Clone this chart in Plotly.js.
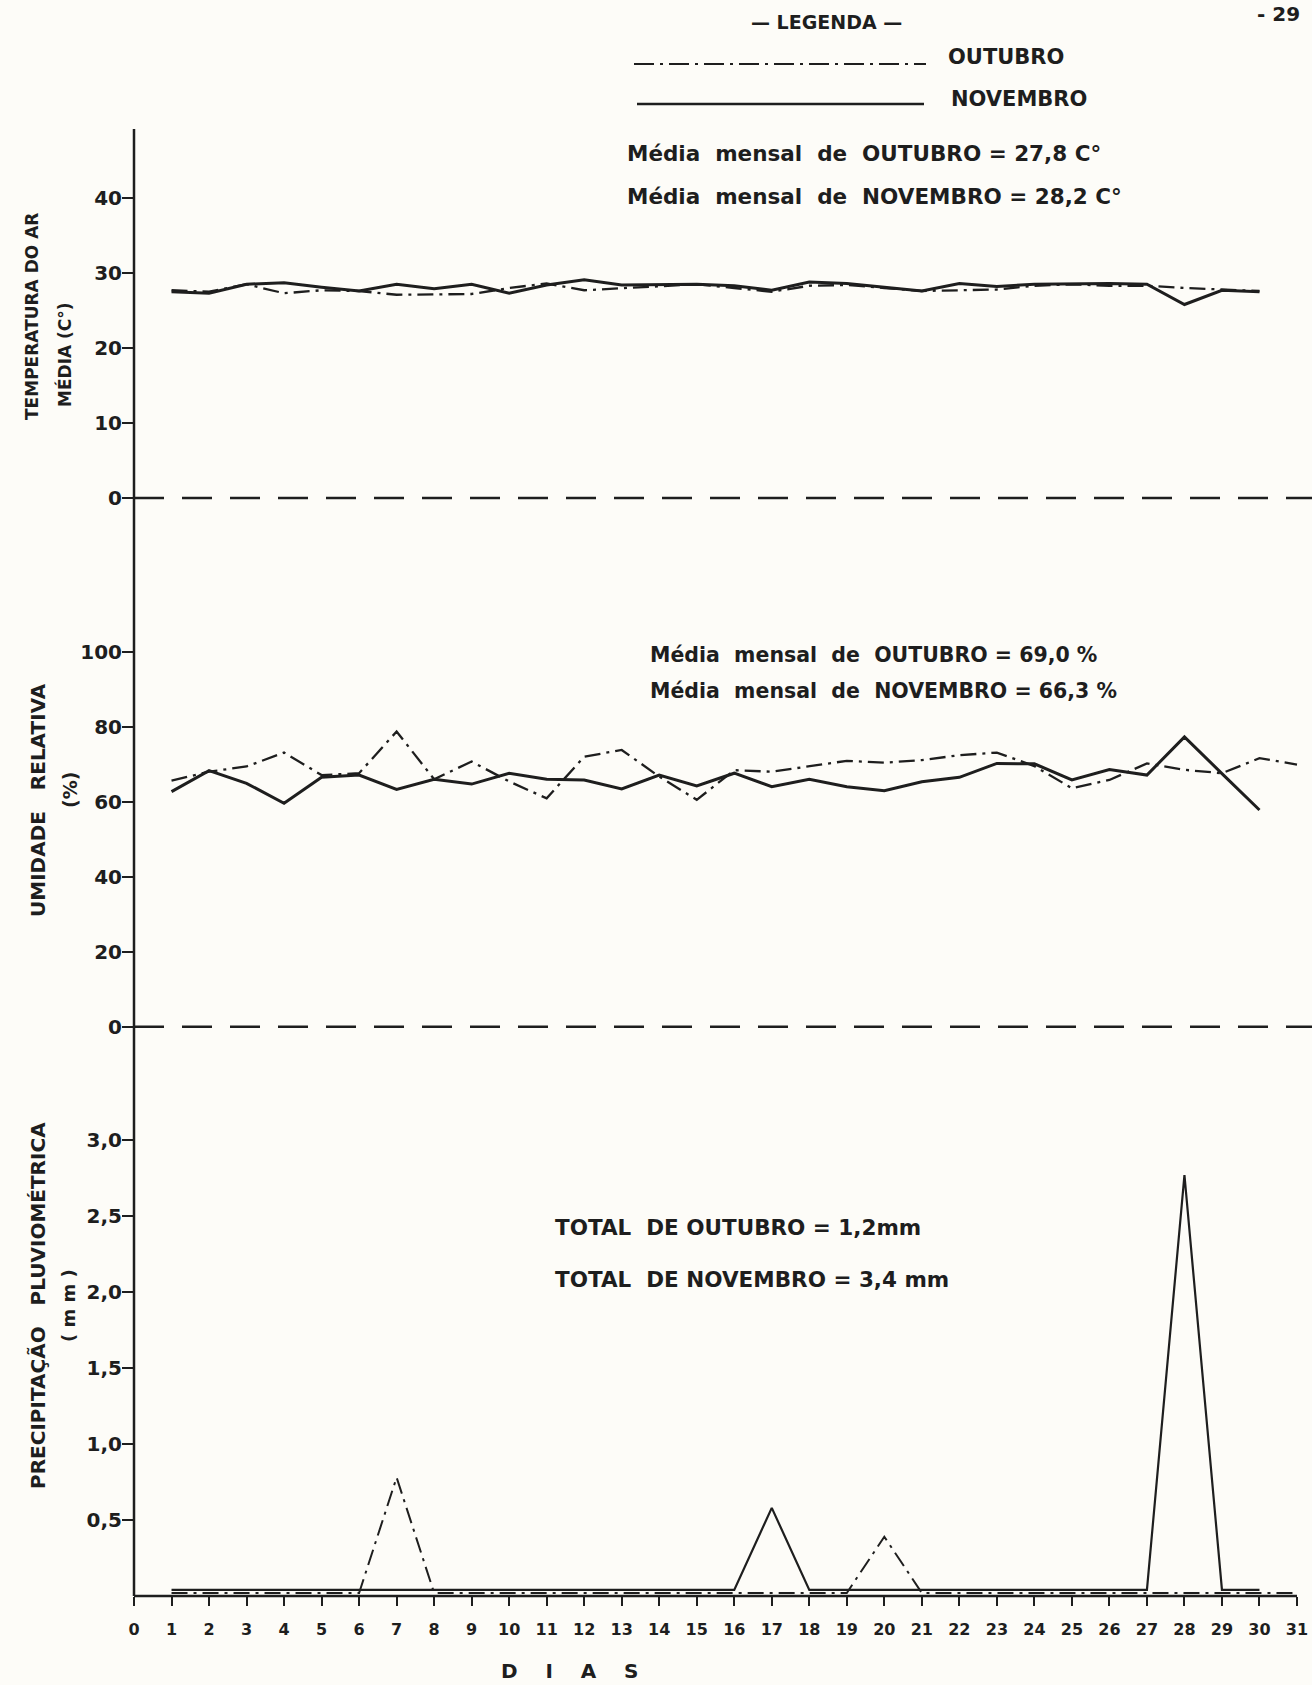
<!DOCTYPE html>
<html><head><meta charset="utf-8">
<script src="https://cdn.plot.ly/plotly-3.0.1.min.js"></script>
<style>body{margin:0;background:#fdfcf8}</style>
</head><body>
<div id="chart" style="width:1312px;height:1685px"></div>
<script>
// ---- data ----
const daysOct = [1,2,3,4,5,6,7,8,9,10,11,12,13,14,15,16,17,18,19,20,21,22,23,24,25,26,27,28,29,30,31];
const daysNov = [1,2,3,4,5,6,7,8,9,10,11,12,13,14,15,16,17,18,19,20,21,22,23,24,25,26,27,28,29,30];
const daysTemp = [1,2,3,4,5,6,7,8,9,10,11,12,13,14,15,16,17,18,19,20,21,22,23,24,25,26,27,28,29,30];

const tempOct = [27.7,27.5,28.5,27.3,27.7,27.6,27.1,27.2,27.2,28.0,28.6,27.7,28.0,28.3,28.5,28.0,27.5,28.3,28.4,28.0,27.6,27.7,27.8,28.3,28.5,28.3,28.3,28.0,27.8,27.6];
const tempNov = [27.5,27.3,28.5,28.7,28.1,27.6,28.5,27.9,28.5,27.3,28.4,29.1,28.4,28.4,28.5,28.3,27.7,28.8,28.6,28.1,27.6,28.6,28.2,28.5,28.6,28.6,28.5,25.8,27.7,27.5];

const humOct = [65.6,68.0,69.4,73.1,67.1,67.6,78.7,66.0,70.7,65.4,60.9,72.0,73.8,66.7,60.5,68.4,68.0,69.5,70.9,70.4,71.1,72.4,73.1,69.5,63.6,65.8,70.2,68.5,67.6,71.6,69.9];
const humNov = [62.7,68.3,64.9,59.6,66.5,67.1,63.3,66.0,64.7,67.6,66.0,65.8,63.4,67.1,64.2,67.6,64.0,66.0,64.0,62.9,65.3,66.5,70.2,70.1,65.8,68.6,67.1,77.3,67.5,57.8];

const rainOct = [0.02,0.02,0.02,0.02,0.02,0.02,0.78,0.02,0.02,0.02,0.02,0.02,0.02,0.02,0.02,0.02,0.02,0.02,0.02,0.39,0.02,0.02,0.02,0.02,0.02,0.02,0.02,0.02,0.02,0.02,0.02];
const rainNov = [0.04,0.04,0.04,0.04,0.04,0.04,0.04,0.04,0.04,0.04,0.04,0.04,0.04,0.04,0.04,0.04,0.58,0.04,0.04,0.04,0.04,0.04,0.04,0.04,0.04,0.04,0.04,2.77,0.04,0.04];

const xTickVals = [0,1,2,3,4,5,6,7,8,9,10,11,12,13,14,15,16,17,18,19,20,21,22,23,24,25,26,27,28,29,30,31];
const xTickText = ["0","1","2","3","4","5","6","7","8","9","10","11","12","13","14","15","16","17","18","19","20","21","22","23","24","25","26","27","28","29","30","31"];
const tempTicks = [0,10,20,30,40];
const tempTickText = ["0","10","20","30","40"];
const humTicks = [0,20,40,60,80,100];
const humTickText = ["0","20","40","60","80","100"];
const rainTicks = [0.5,1.0,1.5,2.0,2.5,3.0];
const rainTickText = ["0,5","1,0","1,5","2,0","2,5","3,0"];

const texts = {
  legendTitle: "— LEGENDA —",
  oct: "OUTUBRO", nov: "NOVEMBRO",
  tOct: "Média  mensal  de  OUTUBRO = 27,8 C°",
  tNov: "Média  mensal  de  NOVEMBRO = 28,2 C°",
  hOct: "Média  mensal  de  OUTUBRO = 69,0 %",
  hNov: "Média  mensal  de  NOVEMBRO = 66,3 %",
  rOct: "TOTAL  DE OUTUBRO = 1,2mm",
  rNov: "TOTAL  DE NOVEMBRO = 3,4 mm",
  dias: "D    I    A    S",
  page: "- 29"
};

// ---- styling ----
const INK = "#1e1e1e";
const F = "DejaVu Sans, Noto Sans, sans-serif";
const octDash = "16px,6px,3px,6px";
const px = v => (v - 134) / 1178;       // pixel x -> paper
const py = v => (1596 - v) / 1467;      // pixel y -> paper

const traces = [
  {x: daysTemp, y: tempOct, xaxis:"x", yaxis:"y", mode:"lines", line:{color:INK, width:2.3, dash:octDash}, name:"OUTUBRO"},
  {x: daysTemp, y: tempNov, xaxis:"x", yaxis:"y", mode:"lines", line:{color:INK, width:3}, name:"NOVEMBRO"},
  {x: daysOct, y: humOct, xaxis:"x", yaxis:"y2", mode:"lines", line:{color:INK, width:2.3, dash:octDash}, name:"OUTUBRO"},
  {x: daysNov, y: humNov, xaxis:"x", yaxis:"y2", mode:"lines", line:{color:INK, width:3}, name:"NOVEMBRO"},
  {x: daysOct, y: rainOct, xaxis:"x", yaxis:"y3", mode:"lines", line:{color:INK, width:2, dash:octDash}, name:"OUTUBRO"},
  {x: daysNov, y: rainNov, xaxis:"x", yaxis:"y3", mode:"lines", line:{color:INK, width:2.2}, name:"NOVEMBRO"}
];

const yCommon = {
  showgrid:false, zeroline:false, showline:false,
  ticks:"outside", ticklen:11, tickwidth:2.2, tickcolor:INK, ticklabelstandoff:-4,
  tickfont:{family:F, size:20, color:INK, weight:700},
  fixedrange:true
};

function ann(text, x, y, opts) {
  return Object.assign({text, x, y, xref:"paper", yref:"paper", showarrow:false,
    xanchor:"left", yanchor:"middle", font:{family:F, size:19, color:INK, weight:700}}, opts || {});
}
const f = (size, weight) => ({family:F, size, color:INK, weight});

const annotations = [
  ann(texts.legendTitle, px(827), py(22), {xanchor:"center", font:f(19, 600)}),
  ann(texts.oct, px(946), py(57), {font:f(21, 600)}),
  ann(texts.nov, px(949), py(99), {font:f(21, 600)}),
  ann(texts.tOct, px(625), py(154), {font:f(21.5, 700)}),
  ann(texts.tNov, px(625), py(197), {font:f(21.5, 700)}),
  ann(texts.hOct, px(648), py(655), {font:f(20.5, 700)}),
  ann(texts.hNov, px(648), py(691), {font:f(20.5, 700)}),
  ann(texts.rOct, px(553), py(1228), {font:f(21.5, 600)}),
  ann(texts.rNov, px(553), py(1279), {font:f(21.5, 600)}),
  ann(texts.dias, px(569), py(1671), {xanchor:"center", font:f(20, 600)}),
  ann("TEMPERATURA DO AR", px(32), py(317), {xanchor:"center", textangle:-90, font:f(17, 600)}),
  ann("MÉDIA (C°)", px(64), py(355), {xanchor:"center", textangle:-90, font:f(17, 600)}),
  ann("UMIDADE   RELATIVA", px(38), py(800), {xanchor:"center", textangle:-90, font:f(20, 600)}),
  ann("(%)", px(70), py(790), {xanchor:"center", textangle:-90, font:f(19, 600)}),
  ann("PRECIPITAÇÃO   PLUVIOMÉTRICA", px(38), py(1306), {xanchor:"center", textangle:-90, font:f(20, 600)}),
  ann("( m m )", px(68), py(1306), {xanchor:"center", textangle:-90, font:f(18, 600)}),
  ann(texts.page, px(1278), py(14), {xanchor:"center", font:f(20, 600)})
];

const shapes = [
  // vertical axis line through all panels
  {type:"line", xref:"paper", yref:"paper", x0:0, x1:0, y0:0, y1:1, line:{color:INK, width:2.5}},
  // bottom axis line
  {type:"line", xref:"x", yref:"paper", x0:0, x1:31, y0:0, y1:0, line:{color:INK, width:2.5}},
  // dashed zero lines
  {type:"line", xref:"paper", yref:"y", x0:0, x1:1, y0:0, y1:0, line:{color:INK, width:2.5, dash:"30px,18px"}},
  {type:"line", xref:"paper", yref:"y2", x0:0, x1:1, y0:0, y1:0, line:{color:INK, width:2.5, dash:"30px,18px"}},
  // legend samples
  {type:"line", xref:"paper", yref:"paper", x0:px(634), x1:px(926), y0:py(64), y1:py(64), line:{color:INK, width:2.2, dash:"20px,6px,3px,6px"}},
  {type:"line", xref:"paper", yref:"paper", x0:px(637), x1:px(924), y0:py(104), y1:py(104), line:{color:INK, width:2.4}}
];

const layout = {
  width:1312, height:1685,
  margin:{l:134, r:0, t:129, b:89},
  paper_bgcolor:"#fdfcf8", plot_bgcolor:"rgba(0,0,0,0)",
  showlegend:false,
  xaxis:{domain:[0,1], range:[0,31.4], anchor:"y3", showgrid:false, zeroline:false, showline:false,
    tickmode:"array", tickvals:xTickVals, ticktext:xTickText,
    ticks:"outside", ticklen:9, tickwidth:2, tickcolor:INK, ticklabelstandoff:10,
    tickfont:{family:F, size:16, color:INK, weight:700}, fixedrange:true},
  yaxis: Object.assign({}, yCommon, {domain:[py(515), 1], range:[-2.267, 49.2], anchor:"x",
    tickmode:"array", tickvals:tempTicks, ticktext:tempTickText}),
  yaxis2: Object.assign({}, yCommon, {domain:[py(1045), py(600)], range:[-4.88, 113.79], anchor:"x",
    tickmode:"array", tickvals:humTicks, ticktext:humTickText}),
  yaxis3: Object.assign({}, yCommon, {domain:[0, py(1080)], range:[0, 3.395], anchor:"x",
    tickmode:"array", tickvals:rainTicks, ticktext:rainTickText}),
  annotations, shapes
};

Plotly.newPlot("chart", traces, layout, {staticPlot:true, displayModeBar:false});
</script>
</body></html>
